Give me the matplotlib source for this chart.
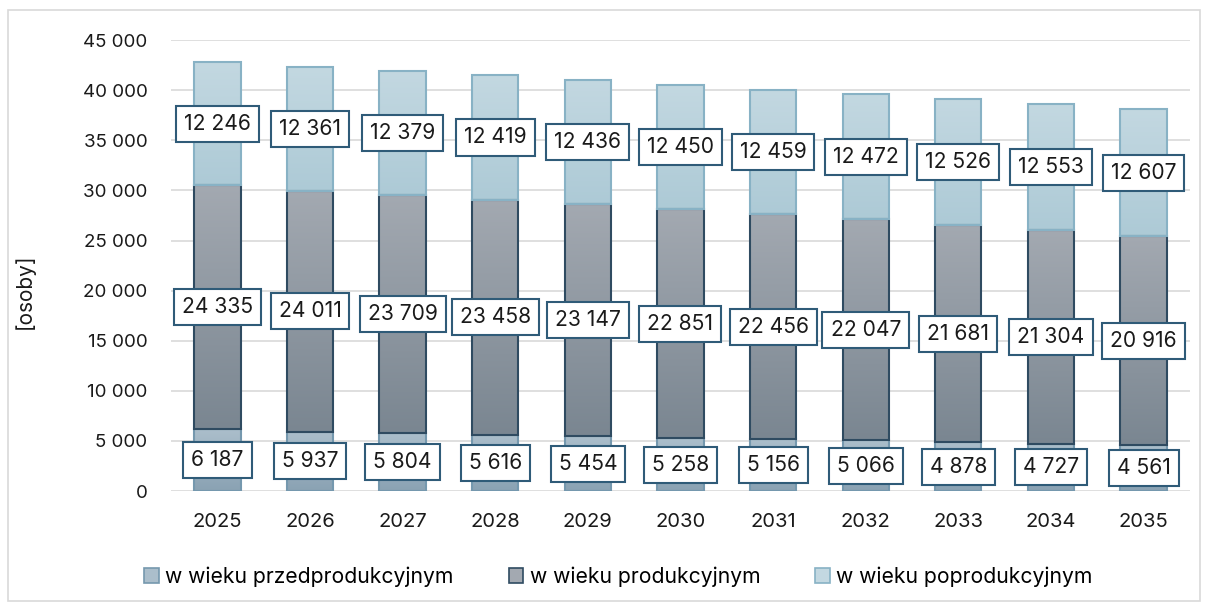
import matplotlib
matplotlib.use("Agg")
import matplotlib.pyplot as plt
import numpy as np
from matplotlib.colors import LinearSegmentedColormap
from matplotlib.patches import Rectangle

years = ["2025", "2026", "2027", "2028", "2029", "2030", "2031", "2032", "2033", "2034", "2035"]
pre = [6187, 5937, 5804, 5616, 5454, 5258, 5156, 5066, 4878, 4727, 4561]
prod = [24335, 24011, 23709, 23458, 23147, 22851, 22456, 22047, 21681, 21304, 20916]
post = [12246, 12361, 12379, 12419, 12436, 12450, 12459, 12472, 12526, 12553, 12607]
series_names = ["w wieku przedprodukcyjnym", "w wieku produkcyjnym", "w wieku poprodukcyjnym"]
yticks = [0, 5000, 10000, 15000, 20000, 25000, 30000, 35000, 40000, 45000]

plt.rcParams['font.family'] = ['Inter', 'DejaVu Sans']

fig = plt.figure(figsize=(12.08, 6.08), dpi=100)
ax = fig.add_axes([0.1416, 0.1924, 0.8434, 0.7416])

# figure border
fig.patches.append(Rectangle((0.007, 0.012), 0.986, 0.972, transform=fig.transFigure,
                             fill=False, edgecolor="#D9D9D9", linewidth=1.2))

x = np.arange(len(years))
width = 0.5
styles = [
    dict(top="#ABBECB", bot="#8AA2B3", edge="#7598AE"),
    dict(top="#A3A9B1", bot="#7A8691", edge="#2F4B61"),
    dict(top="#C3D8E1", bot="#ADCAD6", edge="#88B2C5"),
]
data = [pre, prod, post]
bottom = np.zeros(len(years))
containers = []
for vals, st, name in zip(data, styles, series_names):
    bars = ax.bar(x, vals, width, bottom=bottom, facecolor="none",
                  edgecolor=st["edge"], linewidth=1.5, zorder=3, label=name)
    cmap = LinearSegmentedColormap.from_list("g", [st["bot"], st["top"]])
    for p in bars.patches:
        x0, y0 = p.get_x(), p.get_y()
        w, h = p.get_width(), p.get_height()
        grad = np.linspace(0, 1, 256).reshape(-1, 1)
        im = ax.imshow(grad, extent=[x0, x0 + w, y0, y0 + h], origin="lower",
                       cmap=cmap, aspect="auto", zorder=2, interpolation="bicubic")
        im.set_clip_path(p)
    containers.append((bars, vals, bottom.copy()))
    bottom = bottom + np.array(vals)

def fmt(v):
    return f"{v:,}".replace(",", " ")

for bars, vals, btm in containers:
    for xi, v, b in zip(x, vals, btm):
        ax.text(xi, b + v / 2, fmt(v), ha="center", va="center", fontsize=15.2,
                color="#1a1a1a", zorder=5,
                bbox=dict(boxstyle="square,pad=0.38", facecolor="white",
                          edgecolor="#2F5B78", linewidth=1.5))

ax.set_xlim(-0.5, len(years) - 0.5)
ax.set_ylim(0, 45000)
ax.set_yticks(yticks)
ax.set_yticklabels([fmt(t) for t in yticks], fontsize=13.5, color="#1a1a1a")
ax.set_xticks(x)
ax.set_xticklabels(years, fontsize=14.5, color="#1a1a1a")
ax.tick_params(axis="y", length=0, pad=17)
ax.tick_params(axis="x", length=0, pad=16)
ax.grid(axis="y", color="#D9D9D9", linewidth=1.2, zorder=0)
ax.set_axisbelow(True)
for s in ax.spines.values():
    s.set_visible(False)
ax.set_ylabel("[osoby]", fontsize=15, color="#1a1a1a")
ax.yaxis.set_label_coords(35 / 1208, (608 - 291) / 608, transform=fig.transFigure)

handles = [Rectangle((0, 0), 1, 1, facecolor=st["top"], edgecolor=st["edge"], linewidth=1.2)
           for st in styles]
fig.legend(handles, series_names, loc="center", bbox_to_anchor=(0.512, 0.051), ncol=3,
           frameon=False, fontsize=15.2, handlelength=0.7, handleheight=0.7,
           handletextpad=0.3, columnspacing=2.6)

fig.savefig("out.png", dpi=100)
